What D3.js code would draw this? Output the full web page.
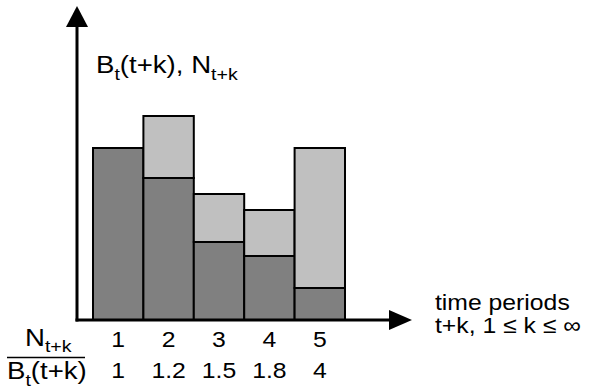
<!DOCTYPE html>
<html>
<head>
<meta charset="utf-8">
<script src="https://cdn.jsdelivr.net/npm/d3@7"></script>
<style>
  body { margin: 0; background: #fff; }
  text { font-family: "Liberation Sans", Arial, sans-serif; fill: #000; font-size: 22.5px; }
  text.big { font-size: 24px; }
  tspan.sub { font-size: 17px; }
</style>
</head>
<body>
<script>
var width = 597, height = 391;

// periods k, ratio N/B under each bar, bar heights (arbitrary units)
var periods = [1, 2, 3, 4, 5];
var ratioLabels = ["1", "1.2", "1.5", "1.8", "4"];
var bValues = [8.6, 7.1, 3.9, 3.2, 1.6];    // dark part, B_t(t+k)
var nValues = [8.6, 10.2, 6.3, 5.5, 8.6];   // full bar, N_t+k

var svg = d3.select("body").append("svg")
  .attr("width", width)
  .attr("height", height);

var x = d3.scaleBand().domain(periods).range([93, 345]).padding(0);
var y = d3.scaleLinear().domain([0, 10]).range([320, 120]);

// text in the original is a bit wider than Arial, stretch it
function label(px, py, anchor, sx) {
  return svg.append("g")
    .attr("transform", "translate(" + px + "," + py + ") scale(" + (sx || 1.1) + ",1)")
    .append("text")
    .attr("text-anchor", anchor || "start");
}

var bars = svg.selectAll("g.bar")
  .data(periods)
  .enter().append("g")
  .attr("class", "bar");

bars.append("rect")
  .attr("x", function(d) { return x(d); })
  .attr("width", x.bandwidth())
  .attr("y", function(d, i) { return y(nValues[i]); })
  .attr("height", function(d, i) { return y(bValues[i]) - y(nValues[i]); })
  .attr("fill", "#c0c0c0")
  .attr("stroke", "#000")
  .attr("stroke-width", 2);

bars.append("rect")
  .attr("x", function(d) { return x(d); })
  .attr("width", x.bandwidth())
  .attr("y", function(d, i) { return y(bValues[i]); })
  .attr("height", function(d, i) { return y(0) - y(bValues[i]); })
  .attr("fill", "#808080")
  .attr("stroke", "#000")
  .attr("stroke-width", 2);

// axes with arrow heads
var x0 = 77, y0 = y(0);
svg.append("line")
  .attr("x1", x0).attr("y1", y0 + 1.5)
  .attr("x2", x0).attr("y2", 26)
  .attr("stroke", "#000").attr("stroke-width", 3);
svg.append("path")
  .attr("d", "M" + x0 + ",6L" + (x0 - 11) + ",27L" + (x0 + 11) + ",27Z")
  .attr("fill", "#000");

svg.append("line")
  .attr("x1", x0 - 1.5).attr("y1", y0)
  .attr("x2", 390).attr("y2", y0)
  .attr("stroke", "#000").attr("stroke-width", 3);
svg.append("path")
  .attr("d", "M412," + y0 + "L389," + (y0 - 10) + "L389," + (y0 + 10) + "Z")
  .attr("fill", "#000");

// y axis label
var yl = label(96, 73, "start", 1.15).attr("class", "big");
yl.append("tspan").text("B");
yl.append("tspan").attr("class", "sub").attr("dy", 7).text("t");
yl.append("tspan").attr("dy", -7).text("(t+k), N");
yl.append("tspan").attr("class", "sub").attr("dy", 7).text("t+k");

// x axis label
label(435, 310).text("time periods");
label(435, 333).text("t+k, 1 \u2264 k \u2264 \u221e");

// fraction on the left
var num = label(25, 346, "start", 1.15).attr("class", "big");
num.append("tspan").text("N");
num.append("tspan").attr("class", "sub").attr("dy", 6).text("t+k");
svg.append("line")
  .attr("x1", 7).attr("x2", 85).attr("y1", 357.5).attr("y2", 357.5)
  .attr("stroke", "#000").attr("stroke-width", 1.5);
var den = label(7, 379, "start", 1.15).attr("class", "big");
den.append("tspan").text("B");
den.append("tspan").attr("class", "sub").attr("dy", 7).text("t");
den.append("tspan").attr("dy", -7).text("(t+k)");

// numbers under bars
periods.forEach(function(d, i) {
  var cx = x(d) + x.bandwidth() / 2;
  label(cx, 347, "middle").text(d);
  label(cx, 378, "middle").text(ratioLabels[i]);
});
</script>
</body>
</html>
